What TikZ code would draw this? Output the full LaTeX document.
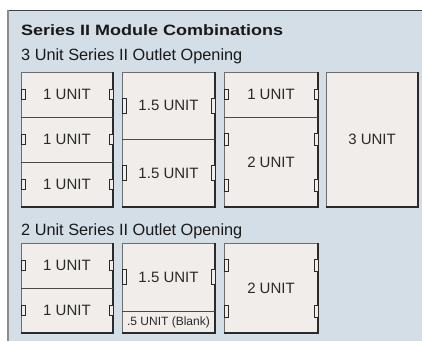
\documentclass[tikz,border=0pt]{standalone}
\usepackage{fontspec}
\setmainfont{Liberation Sans}
\usepackage{graphicx}
\definecolor{panelbg}{HTML}{D3DEE6}
\definecolor{boxfill}{HTML}{F0EDEA}
\definecolor{darkline}{HTML}{2A2A2A}
\definecolor{lightline}{HTML}{6E6E6E}
\tikzset{
  lightedge/.style={draw=lightline,line width=1pt},
  darkedge/.style={draw=darkline,line width=1.3pt},
  divider/.style={draw=darkline!85,line width=0.9pt},
  tabbox/.style={draw=darkline,line width=0.7pt,fill=boxfill},
  lbl/.style={inner sep=0pt,font=\fontsize{15}{15}\selectfont,text=darkline},
  small/.style={inner sep=0pt,font=\fontsize{12}{12}\selectfont,text=darkline},
  head/.style={inner sep=0pt,anchor=base west,text=black!90}
}
\newcommand\modcol[4]{%
  \fill[boxfill] (#1,#2) rectangle (#3,#4);
  \draw[lightedge] (#1,#4) -- (#1,#2) -- (#3,#2);
  \draw[darkedge] (#3,#2) -- (#3,#4) -- (#1,#4);}
\newcommand\divline[3]{\draw[divider] (#1,#3) -- (#2,#3);}
\newcommand\ltab[3]{\draw[tabbox] (#1,{#2-#3/2}) rectangle ({#1+4},{#2+#3/2});}
\newcommand\rtab[3]{\draw[tabbox] ({#1-4},{#2-#3/2}) rectangle (#1,{#2+#3/2});}
\begin{document}
\begin{tikzpicture}[x=1pt,y=-1pt]
\useasboundingbox (0,0) rectangle (422,341);
% panel
\fill[panelbg] (8,10) rectangle (422,341);
\draw[draw=black!75,line width=1pt] (8,10) -- (422,10);
\draw[draw=black!45,line width=1.5pt] (8,341) -- (8,9.5);
% headings
\node[head,font=\fontsize{15}{15}\selectfont\bfseries] (title) at (21,35) {\scalebox{1.2}[1]{Series II Module Combinations}};
\node[head,font=\fontsize{16.3}{16}\selectfont] (sub3) at (21,60) {3 Unit Series II Outlet Opening};
\node[head,font=\fontsize{16.3}{16}\selectfont] (sub2) at (21,235) {2 Unit Series II Outlet Opening};
% ---------- upper group ----------
\modcol{21}{72}{113}{207}
\divline{21}{113}{117}
\divline{21}{113}{162}
\modcol{122}{72}{215}{207}
\divline{122}{215}{139.5}
\modcol{224}{72}{318}{207}
\divline{224}{318}{117}
\modcol{326}{72}{418}{207}
% tabs upper col1
\ltab{21}{94.5}{10}\rtab{113}{94.5}{10}
\ltab{21}{139.5}{10}\rtab{113}{139.5}{10}
\ltab{21}{184.5}{10}\rtab{113}{184.5}{10}
% col2
\ltab{122}{105.75}{15}\rtab{215}{105.75}{15}
\ltab{122}{173.25}{15}\rtab{215}{173.25}{15}
% col3
\ltab{224}{94.5}{10}\rtab{318}{94.5}{10}
\ltab{224}{139}{12}\rtab{318}{139}{12}
\ltab{224}{185}{12}\rtab{318}{185}{12}
% labels upper
\node[lbl] (a1) at (67,94.5) {1 UNIT};
\node[lbl] (a2) at (67,139.5) {1 UNIT};
\node[lbl] (a3) at (67,184.5) {1 UNIT};
\node[lbl] (b1) at (168.5,105.75) {1.5 UNIT};
\node[lbl] (b2) at (168.5,173.25) {1.5 UNIT};
\node[lbl] (c1) at (271,94.5) {1 UNIT};
\node[lbl] (c2) at (271,162) {2 UNIT};
\node[lbl] (d1) at (372,139.5) {3 UNIT};
% ---------- lower group ----------
\modcol{21}{243}{113}{333}
\divline{21}{113}{288}
\modcol{122}{243}{215}{333}
\divline{122}{215}{311}
\modcol{224}{243}{318}{333}
\ltab{21}{265.5}{10}\rtab{113}{265.5}{10}
\ltab{21}{310.5}{10}\rtab{113}{310.5}{10}
\ltab{122}{277}{15}\rtab{215}{277}{15}
\ltab{224}{265}{12}\rtab{318}{265}{12}
\ltab{224}{311}{12}\rtab{318}{311}{12}
\node[lbl] (e1) at (67,265.5) {1 UNIT};
\node[lbl] (e2) at (67,310.5) {1 UNIT};
\node[lbl] (f1) at (168.5,277) {1.5 UNIT};
\node[small] (f2) at (168.5,322) {.5 UNIT (Blank)};
\node[lbl] (g1) at (271,288) {2 UNIT};
\end{tikzpicture}
\end{document}
